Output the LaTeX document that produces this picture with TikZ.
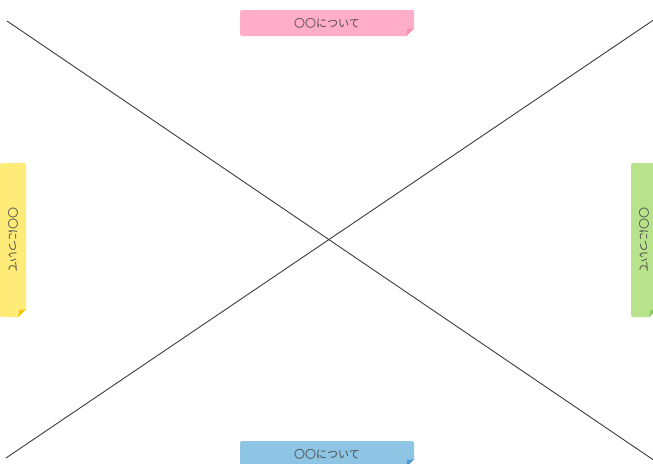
\documentclass[tikz,border=0pt]{standalone}
\usepackage{fontspec}
\newfontfamily\jpfont{Noto Sans CJK JP}
\definecolor{pinknote}{HTML}{FFADC9}
\definecolor{pinkfold}{HTML}{F78DB3}
\definecolor{yellownote}{HTML}{FFEC78}
\definecolor{yellowfold}{HTML}{F7C400}
\definecolor{greennote}{HTML}{B9E28C}
\definecolor{greenfold}{HTML}{8CC860}
\definecolor{bluenote}{HTML}{8EC4E4}
\definecolor{bluefold}{HTML}{4A98D2}
\definecolor{notetext}{HTML}{4A4A4A}
\definecolor{crossline}{HTML}{3C3C3C}
\begin{document}
\begin{tikzpicture}[x=1pt,y=-1pt,
    note/.style={rectangle,rounded corners=1.5pt,inner sep=0pt,text=notetext,
      font=\jpfont\fontsize{11}{12}\selectfont},
    wide/.style={note,minimum width=174pt,minimum height=26pt},
    tall/.style={note,rotate=-90,minimum width=154pt,minimum height=26pt}]
    \def\fold#1#2{
      \fill[white] ([xshift=-8pt]#1) -- (#1) -- ([yshift=8pt]#1) -- cycle;
      \fill[#2] ([xshift=-8pt]#1) -- ([yshift=8pt]#1) -- ([xshift=-7pt,yshift=7pt]#1) -- cycle;}
    \useasboundingbox (0,0) rectangle (653,463);
    % the two diagonals
    \coordinate (tl) at (7,21);
    \coordinate (br) at (655,461);
    \coordinate (tr) at (655,19);
    \coordinate (bl) at (6,458);
    \draw[crossline,line width=0.9pt] (tl) -- (br);
    \draw[crossline,line width=0.9pt] (tr) -- (bl);
    % the four tabs
    \node[wide,fill=pinknote] (top) at (327,23) {〇〇について};
    \node[wide,fill=bluenote] (bottom) at (327,454) {〇〇について};
    \node[tall,fill=yellownote] (left) at (13,240) {〇〇について};
    \node[tall,fill=greennote] (right) at (644,240) {〇〇について};
    \fold{top.south east}{pinkfold}
    \fold{bottom.south east}{bluefold}
    \fold{left.north east}{yellowfold}
    \fold{right.north east}{greenfold}
\end{tikzpicture}
\end{document}
